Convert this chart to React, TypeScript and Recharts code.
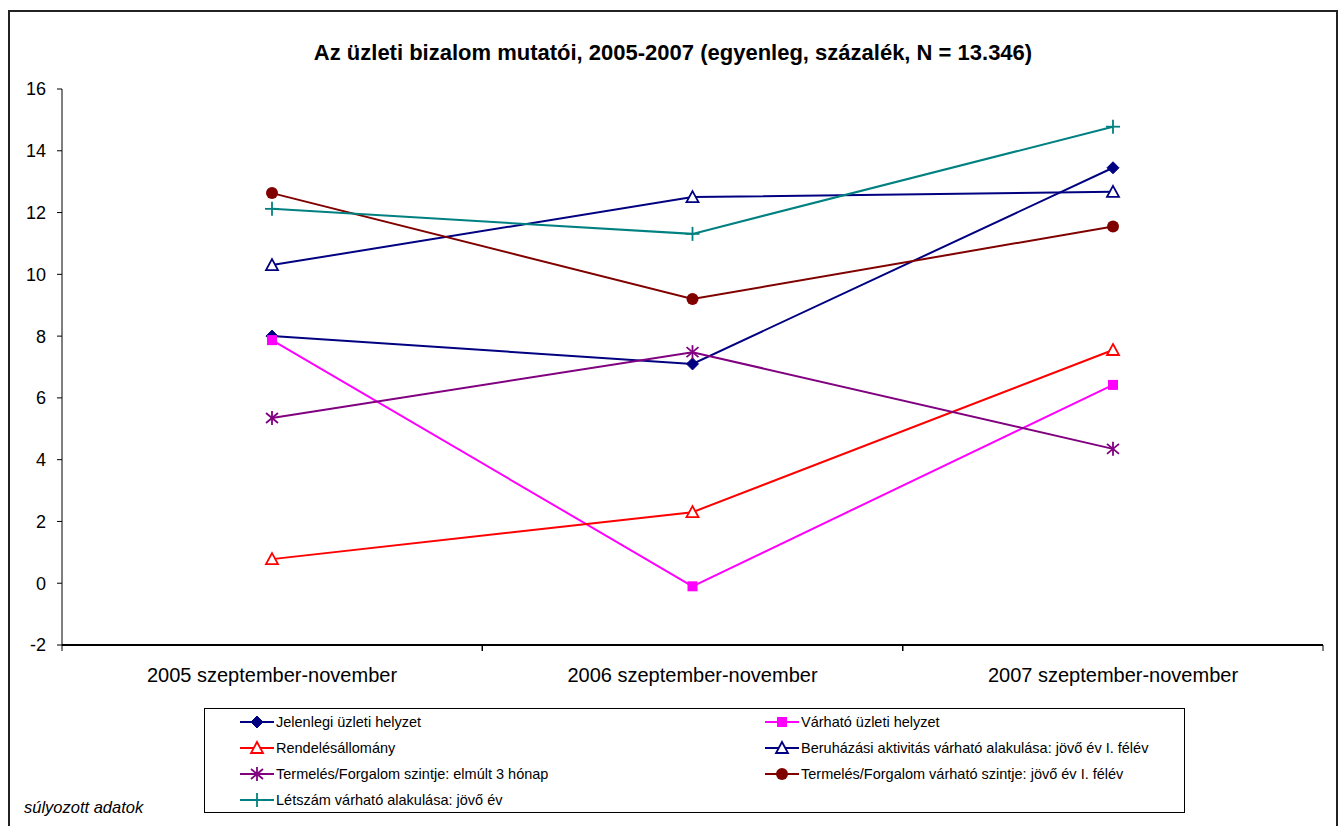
import React from 'react';
import { Legend, Line, LineChart, XAxis, YAxis } from 'recharts';

const categories = [
  '2005 szeptember-november',
  '2006 szeptember-november',
  '2007 szeptember-november',
];
const jelenlegi = [8.0, 7.1, 13.45];
const varhato = [7.87, -0.1, 6.42];
const rendeles = [0.78, 2.3, 7.55];
const beruhazasi = [10.3, 12.5, 12.67];
const termelesMult = [5.35, 7.48, 4.35];
const termelesVarhato = [12.63, 9.2, 11.55];
const letszam = [12.12, 11.31, 14.78];
const yTicks = [-2, 0, 2, 4, 6, 8, 10, 12, 14, 16];

type Shape = 'diamond' | 'square' | 'triangle' | 'star' | 'circle' | 'plus';

interface Series {
  key: string;
  name: string;
  values: number[];
  color: string;
  shape: Shape;
}

const series: Series[] = [
  { key: 'jelenlegi', name: 'Jelenlegi üzleti helyzet', values: jelenlegi, color: '#000080', shape: 'diamond' },
  { key: 'varhato', name: 'Várható üzleti helyzet', values: varhato, color: '#FF00FF', shape: 'square' },
  { key: 'rendeles', name: 'Rendelésállomány', values: rendeles, color: '#FF0000', shape: 'triangle' },
  {
    key: 'beruhazasi',
    name: 'Beruházási aktivitás várható alakulása: jövő év I. félév',
    values: beruhazasi,
    color: '#000080',
    shape: 'triangle',
  },
  {
    key: 'termelesMult',
    name: 'Termelés/Forgalom szintje: elmúlt 3 hónap',
    values: termelesMult,
    color: '#800080',
    shape: 'star',
  },
  {
    key: 'termelesVarhato',
    name: 'Termelés/Forgalom várható szintje: jövő év I. félév',
    values: termelesVarhato,
    color: '#800000',
    shape: 'circle',
  },
  { key: 'letszam', name: 'Létszám várható alakulása: jövő év', values: letszam, color: '#008080', shape: 'plus' },
];

const data = categories.map((category, i) => {
  const row: Record<string, string | number> = { category };
  series.forEach((s) => {
    row[s.key] = s.values[i];
  });
  return row;
});

const FONT = '"Liberation Sans", Arial, sans-serif';
const HALF_BAND = 210;

const Marker = ({ shape, color, cx, cy }: { shape: Shape; color: string; cx: number; cy: number }) => {
  switch (shape) {
    case 'diamond':
      return <path d={`M${cx},${cy - 6}L${cx + 6},${cy}L${cx},${cy + 6}L${cx - 6},${cy}Z`} fill={color} stroke={color} />;
    case 'square':
      return <rect x={cx - 5} y={cy - 5} width={10} height={10} fill={color} />;
    case 'triangle':
      return (
        <path
          d={`M${cx},${cy - 6}L${cx + 6},${cy + 5}L${cx - 6},${cy + 5}Z`}
          fill="#fff"
          stroke={color}
          strokeWidth={1.8}
        />
      );
    case 'circle':
      return <circle cx={cx} cy={cy} r={6} fill={color} />;
    case 'star':
      return (
        <g stroke={color} strokeWidth={1.8}>
          <line x1={cx} y1={cy - 7} x2={cx} y2={cy + 7} />
          <line x1={cx - 6} y1={cy - 5} x2={cx + 6} y2={cy + 5} />
          <line x1={cx - 6} y1={cy + 5} x2={cx + 6} y2={cy - 5} />
        </g>
      );
    case 'plus':
    default:
      return (
        <g stroke={color} strokeWidth={1.8}>
          <line x1={cx} y1={cy - 7} x2={cx} y2={cy + 7} />
          <line x1={cx - 7} y1={cy} x2={cx + 7} y2={cy} />
        </g>
      );
  }
};

const XTick = (props: any) => {
  const { x, y, payload } = props;
  return (
    <g>
      <line x1={x - HALF_BAND} y1={y} x2={x - HALF_BAND} y2={y + 6} stroke="#000" />
      <line x1={x + HALF_BAND} y1={y} x2={x + HALF_BAND} y2={y + 6} stroke="#000" />
      <text x={x} y={y + 37} textAnchor="middle" fill="#000" fontSize={20} fontFamily={FONT}>
        {payload.value}
      </text>
    </g>
  );
};

const renderLegend = () => (
  <div
    style={{
      boxSizing: 'border-box',
      width: 981,
      height: 105,
      border: '1px solid #000',
      background: '#fff',
      paddingLeft: 35,
      display: 'grid',
      gridTemplateColumns: '525px auto',
      gridAutoRows: '26px',
      fontFamily: FONT,
      fontSize: 14.5,
      color: '#000',
    }}
  >
    {series.map((s) => (
      <div key={s.key} style={{ display: 'flex', alignItems: 'center', whiteSpace: 'nowrap' }}>
        <svg width={34} height={16} style={{ marginRight: 2 }}>
          <line x1={0} y1={8} x2={34} y2={8} stroke={s.color} strokeWidth={2} />
          <Marker shape={s.shape} color={s.color} cx={17} cy={8} />
        </svg>
        <span>{s.name}</span>
      </div>
    ))}
  </div>
);

export default function App() {
  return (
    <div style={{ position: 'absolute', left: 0, top: 0, width: 1339, height: 826, overflow: 'hidden', background: '#fff' }}>
      <div
        style={{
          position: 'absolute',
          left: 8,
          top: 10,
          width: 1330,
          height: 830,
          border: '2px solid #222',
          boxSizing: 'border-box',
        }}
      />
      <div
        style={{
          position: 'absolute',
          left: 8,
          width: 1330,
          top: 40,
          textAlign: 'center',
          fontFamily: FONT,
          fontWeight: 'bold',
          fontSize: 22,
          lineHeight: '26px',
          color: '#000',
        }}
      >
        Az üzleti bizalom mutatói, 2005-2007 (egyenleg, százalék, N = 13.346)
      </div>
      <div style={{ position: 'absolute', left: 0, top: 0 }}>
        <LineChart width={1339} height={826} data={data} margin={{ top: 89, right: 16, left: 0, bottom: 141 }}>
          <XAxis
            dataKey="category"
            padding={{ left: HALF_BAND, right: HALF_BAND }}
            height={40}
            interval={0}
            tickLine={false}
            tickSize={0}
            tickMargin={0}
            axisLine={{ stroke: '#000', strokeWidth: 2 }}
            tick={<XTick />}
          />
          <XAxis
            xAxisId="top"
            orientation="top"
            dataKey="category"
            height={0}
            tick={false}
            tickLine={false}
            axisLine={{ stroke: '#000' }}
          />
          <YAxis
            domain={[-2, 16]}
            ticks={yTicks}
            interval={0}
            width={62}
            tickSize={5}
            tickMargin={11}
            axisLine={{ stroke: '#000' }}
            tickLine={{ stroke: '#000' }}
            tick={{ fill: '#000', fontSize: 18, fontFamily: FONT }}
          />
          <YAxis
            yAxisId="right"
            orientation="right"
            domain={[-2, 16]}
            width={0}
            tick={false}
            tickLine={false}
            axisLine={{ stroke: '#808080' }}
          />
          <Legend
            layout="horizontal"
            verticalAlign="middle"
            align="center"
            content={renderLegend}
            wrapperStyle={{ left: 204, top: 708, width: 981, height: 105 }}
          />
          {series.map((s) => (
            <Line
              key={s.key}
              dataKey={s.key}
              name={s.name}
              type="linear"
              stroke={s.color}
              strokeWidth={2}
              isAnimationActive={false}
              activeDot={false}
              dot={(p: any) => <Marker key={`${s.key}-${p.index}`} shape={s.shape} color={s.color} cx={p.cx} cy={p.cy} />}
            />
          ))}
        </LineChart>
      </div>
      <div
        style={{
          position: 'absolute',
          left: 24,
          top: 798,
          fontFamily: FONT,
          fontStyle: 'italic',
          fontSize: 16.5,
          color: '#000',
        }}
      >
        súlyozott adatok
      </div>
    </div>
  );
}
